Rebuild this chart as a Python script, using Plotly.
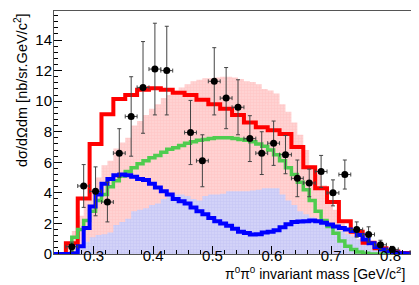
import plotly.graph_objects as go

# ---------------- data ----------------
# fine binning (0.01) for model components, coarse (0.02) for total fit
fine_start = 0.233
fine_width = 0.01
pink_band = [0, 0, 0.8, 1.5, 2.5, 3.5, 4.2, 5.0, 5.8, 6.1, 6.9, 7.3, 7.6, 8.4, 8.7, 9.1, 9.5, 9.8,
             10.2, 10.4, 10.7, 10.9, 11.1, 11.3, 11.4, 11.5, 11.5, 11.55, 11.6, 11.6, 11.55, 11.45,
             11.3, 11.25, 11.1, 10.8, 10.7, 10.5, 9.8, 9.3, 8.6, 7.8, 6.8, 5.8, 5.2, 4.5, 3.3, 2.9,
             2.0, 1.7, 1.4, 1.0, 0.7, 0.45, 0.3, 0.2, 0.12, 0.06, 0.03, 0, 0, 0]
blue_band = [0, 0, 0, 0.1, 0.5, 0.8, 1.1, 1.25, 1.3, 1.4, 1.9, 2.1, 2.3, 2.8, 2.9, 3.0, 3.2, 3.3,
             3.6, 3.8, 3.9, 3.9, 3.8, 3.6, 3.5, 3.8, 3.9, 3.9, 3.95, 4.1, 4.1, 4.1, 4.1, 4.15, 4.2,
             4.3, 4.3, 4.3, 3.9, 3.5, 3.2, 2.8, 2.6, 2.4, 2.2, 2.05, 1.9, 1.7, 1.5, 1.3, 1.15, 0.95,
             0.75, 0.55, 0.4, 0.28, 0.15, 0.08, 0.04, 0.02, 0, 0]
green_hist = [0, 0, 0, 1.1, 1.6, 2.2, 2.8, 3.5, 3.9, 4.4, 4.8, 5.1, 5.4, 5.65, 5.9, 6.1, 6.3, 6.45,
              6.65, 6.85, 6.95, 7.1, 7.25, 7.35, 7.45, 7.5, 7.55, 7.6, 7.6, 7.6, 7.55, 7.5, 7.45,
              7.35, 7.2, 7.05, 6.8, 6.5, 6.1, 5.65, 5.2, 4.7, 4.2, 3.5, 2.8, 2.2, 1.8, 1.35, 0.85,
              0.5, 0.3, 0.13, 0.05, 0, 0, 0, 0, 0, 0, 0, 0, 0]
blue_hist = [0, 0, 0, 0.05, 0.5, 1.7, 3.1, 3.9, 4.6, 4.9, 5.15, 5.2, 5.15, 5.05, 4.9, 4.85, 4.6,
             4.35, 4.1, 3.9, 3.6, 3.45, 3.3, 3.05, 2.8, 2.6, 2.35, 2.15, 2.0, 1.85, 1.65, 1.45,
             1.38, 1.28, 1.3, 1.4, 1.45, 1.55, 1.75, 1.95, 2.1, 2.12, 2.15, 2.2, 2.15, 2.05, 1.93,
             1.8, 1.7, 1.6, 1.5, 1.25, 0.95, 0.7, 0.45, 0.3, 0.18, 0.09, 0.05, 0.03, 0.02, 0.02]

coarse_start = 0.253
coarse_width = 0.02
red_hist = [0.7, 3.63, 7.2, 9.15, 10.15, 10.4, 10.75, 10.85, 10.75, 10.55, 10.4, 10.1, 9.8, 9.5,
            9.1, 8.6, 8.3, 8.1, 7.85, 7.0, 5.67, 4.3, 3.4, 2.15, 1.45, 0.74, 0.37, 0.16, 0.07, 0.03]

data_x = [0.263, 0.283, 0.303, 0.323, 0.343, 0.363, 0.383, 0.403, 0.423, 0.463, 0.483, 0.503,
          0.523, 0.543, 0.563, 0.583, 0.603, 0.623, 0.643, 0.663, 0.683, 0.703, 0.723, 0.743,
          0.763, 0.783, 0.803, 0.843]
data_y = [0.48, 4.45, 4.1, 3.4, 6.6, 9.0, 10.9, 12.1, 12.0, 7.95, 6.1, 11.3, 10.2, 9.6, 7.55,
          6.6, 7.25, 6.5, 4.95, 4.65, 5.4, 4.0, 5.2, 1.6, 1.28, 0.6, 0.3, 0.12]
data_err = [0.3, 1.4, 1.6, 1.3, 1.6, 2.6, 3.0, 3.0, 2.9, 2.1, 1.7, 2.2, 2.0, 1.8, 1.5, 1.4, 1.45,
            1.25, 1.2, 0.9, 1.05, 0.85, 0.95, 0.5, 0.5, 0.3, 0.2, 0.15]
data_xerr = 0.01

x_range = [0.233, 0.853]
y_range = [0, 15.9]
x_ticks = [0.3, 0.4, 0.5, 0.6, 0.7, 0.8]
y_ticks = [0, 2, 4, 6, 8, 10, 12, 14]


def step_xy(start, width, values):
    edges = [start + i * width for i in range(len(values) + 1)]
    xs = [edges[0]] + edges + [edges[-1]]
    ys = [0] + list(values) + [values[-1], 0]
    return xs, ys


fig = go.Figure()

for vals, color, dots in [(pink_band, "#ffd2d2", "#ffb4b4"), (blue_band, "#d2d2f8", "#b4b4ee")]:
    xs, ys = step_xy(fine_start, fine_width, vals)
    fig.add_trace(go.Scatter(x=xs, y=ys, mode="lines", line=dict(width=0, shape="hv"),
                             fill="tozeroy", fillcolor=color,
                             fillpattern=dict(shape="+", fgcolor=dots, bgcolor=color,
                                              size=3, solidity=0.3),
                             hoverinfo="skip"))

xs, ys = step_xy(coarse_start, coarse_width, red_hist)
fig.add_trace(go.Scatter(x=xs, y=ys, mode="lines", line=dict(color="#ff0000", width=4, shape="hv")))
xs, ys = step_xy(fine_start, fine_width, green_hist)
fig.add_trace(go.Scatter(x=xs, y=ys, mode="lines", line=dict(color="#4fcc4f", width=3.5, shape="hv")))
xs, ys = step_xy(fine_start, fine_width, blue_hist)
fig.add_trace(go.Scatter(x=xs, y=ys, mode="lines", line=dict(color="#0000ff", width=4, shape="hv")))

fig.add_trace(go.Scatter(
    x=data_x, y=data_y, mode="markers",
    marker=dict(color="black", size=7),
    error_y=dict(type="data", array=data_err, color="#444444", thickness=1, width=2),
    error_x=dict(type="constant", value=data_xerr, color="#444444", thickness=1, width=2),
))

font_family = "Liberation Sans, Arial, sans-serif"
fig.update_layout(
    width=419, height=285,
    margin=dict(l=46, r=5, t=3, b=39),
    paper_bgcolor="white", plot_bgcolor="white",
    showlegend=False,
    font=dict(family=font_family, size=15, color="black"),
    xaxis=dict(range=x_range, tickvals=x_ticks, ticktext=[f"{v:.1f}" for v in x_ticks],
               ticks="inside", ticklen=8, tickcolor="black", showgrid=False, zeroline=False,
               showline=True, linecolor="#555555", linewidth=1, mirror=True,
               minor=dict(dtick=0.02, tick0=0.3, ticks="inside", ticklen=4, tickcolor="black"),
               tickfont=dict(size=15), ticklabelstandoff=-12),
    yaxis=dict(range=y_range, tickvals=y_ticks, ticks="inside", ticklen=8, tickcolor="black",
               showgrid=False, zeroline=False, showline=True, linecolor="#555555", linewidth=1,
               mirror=True,
               minor=dict(dtick=0.4, tick0=0, ticks="inside", ticklen=4, tickcolor="black"),
               tickfont=dict(size=15), ticklabelstandoff=-2),
    annotations=[
        dict(text="dσ/dΩdm [nb/sr.GeV/c<sup>2</sup>]", textangle=-90,
             xref="paper", yref="paper", x=-33 / 368, y=1.0,
             xanchor="center", yanchor="top", showarrow=False, font=dict(size=14.5)),
        dict(text="π<sup>0</sup>π<sup>0</sup> invariant mass [GeV/c<sup>2</sup>]",
             xref="paper", yref="paper", x=(215 - 46) / 368, y=-19 / 243,
             xanchor="left", yanchor="middle", showarrow=False, font=dict(size=14)),
    ],
)

fig.write_html("out.html")
